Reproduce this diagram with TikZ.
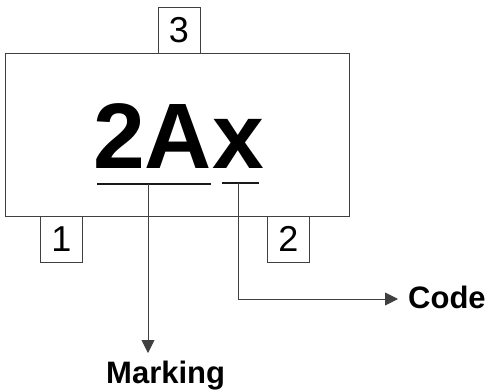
\documentclass[tikz,border=0pt]{standalone}
\usepackage{fontspec}
\setmainfont{Liberation Sans}
\usepackage{tikz}
\usetikzlibrary{positioning,arrows.meta}

\begin{document}
\begin{tikzpicture}[x=1pt,y=-1pt,
    body/.style={rectangle,draw=black!75,line width=0.9pt,minimum width=344pt,minimum height=163pt,inner sep=0pt},
    pinbox/.style={rectangle,draw=black!75,line width=0.9pt,minimum width=42pt,minimum height=46pt,inner sep=0pt,font=\fontsize{36}{36}\selectfont},
    bar/.style={line width=2.4pt,black!90},
    conn/.style={line width=0.9pt,black!75},
    arr/.style={conn,-{Triangle[width=13pt,length=13pt]}},
    lbl/.style={inner sep=0pt,font=\fontsize{31}{31}\selectfont\bfseries}
    ]
\useasboundingbox (0,0) rectangle (490,391);

% Package outline
\node[body] (pkg) at (177,134.5) {};

% Pins
\node[pinbox] (p3) at (179,30) {3};
\node[pinbox] (p1) at (61.5,239) {1};
\node[pinbox] (p2) at (288.5,239) {2};

% Marking text
\node[inner sep=0pt,anchor=base west,font=\fontsize{93}{93}\selectfont\bfseries] (mark) at (93,168) {2Ax};
\draw[bar] (97,184) -- (211,184);
\draw[bar] (222,183) -- (259,183);

% Leaders
\coordinate (mk0) at (148,184);
\coordinate (mk1) at (148,353);
\coordinate (cd0) at (238,183);
\coordinate (cd1) at (398,299);
\draw[arr] (mk0) -- (mk1);
\draw[arr] (cd0) |- (cd1);

\node[lbl,anchor=base west] (code) at (408,308) {Code};
\node[lbl,anchor=base west] (marking) at (106,383) {Marking};

\end{tikzpicture}
\end{document}
